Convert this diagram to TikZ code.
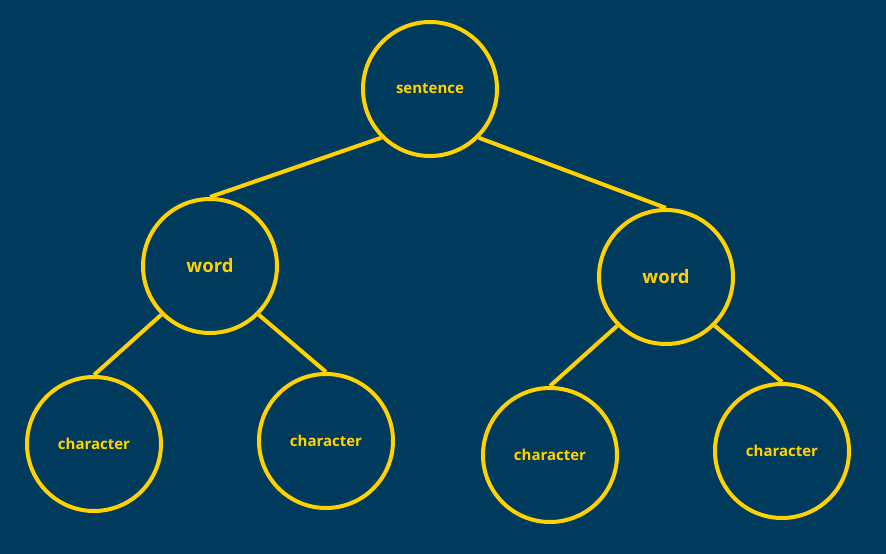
\documentclass[tikz,border=0pt]{standalone}
\usepackage{fontspec}
\setmainfont{Open Sans}
\usepackage{xcolor}
\definecolor{bgblue}{HTML}{003A5C}
\definecolor{treeyellow}{HTML}{FFD200}

\begin{document}
\begin{tikzpicture}[x=1pt,y=-1pt,
  treenode/.style={circle,draw=treeyellow,line width=4pt,minimum size=134pt,inner sep=0pt,text=treeyellow,font=\bfseries},
  treeedge/.style={draw=treeyellow,line width=4pt}]
  % background
  \fill[bgblue] (0,0) rectangle (886,554);
  \useasboundingbox (0,0) rectangle (886,554);
  % Root: sentence
  \node[treenode,font=\bfseries\fontsize{15}{17}\selectfont] (sentence) at (430,89) {sentence};
  % Second level: two words
  \node[treenode,font=\bfseries\fontsize{18.5}{20}\selectfont] (wordL) at (210,266) {word};
  \node[treenode,font=\bfseries\fontsize{18.5}{20}\selectfont] (wordR) at (666,277) {word};
  % Third level: four characters
  \node[treenode,font=\bfseries\fontsize{15}{17}\selectfont] (charA) at (94,444) {character};
  \node[treenode,font=\bfseries\fontsize{15}{17}\selectfont] (charB) at (326,441) {character};
  \node[treenode,font=\bfseries\fontsize{15}{17}\selectfont] (charC) at (550,455) {character};
  \node[treenode,font=\bfseries\fontsize{15}{17}\selectfont] (charD) at (782,451) {character};
  % Connectors
  \draw[treeedge] (sentence.225) -- (wordL.north);
  \draw[treeedge] (sentence.-45) -- (wordR.north);
  \draw[treeedge] (wordL.225) -- (charA.north);
  \draw[treeedge] (wordL.-45) -- (charB.north);
  \draw[treeedge] (wordR.225) -- (charC.north);
  \draw[treeedge] (wordR.-45) -- (charD.north);
\end{tikzpicture}
\end{document}
